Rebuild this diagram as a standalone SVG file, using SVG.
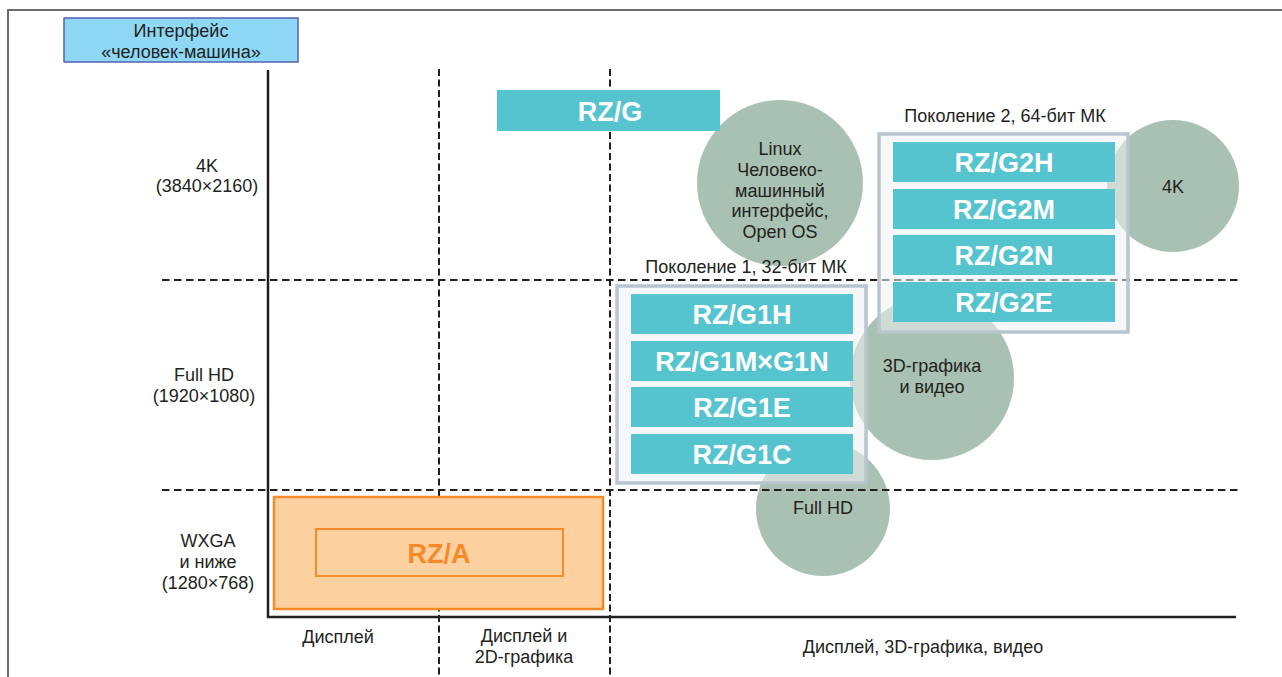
<svg xmlns="http://www.w3.org/2000/svg" width="1282" height="677" viewBox="0 0 1282 677">
<style>
  .t{font-family:"Liberation Sans",Arial,sans-serif;font-size:18px;fill:#231f20;text-anchor:middle}
  .b{font-family:"Liberation Sans",Arial,sans-serif;font-size:27px;font-weight:bold;fill:#ffffff;text-anchor:middle}
  .teal{fill:#55c4cf}
  .circ{fill:#a8c1b2}
  .panel{fill:#eff1f3;fill-opacity:0.55;stroke:#b7c5ce;stroke-width:3.5}
  .dh{stroke:#231f20;stroke-width:2;stroke-dasharray:7.5 4.5;fill:none}
  .dv{stroke:#231f20;stroke-width:2;stroke-dasharray:7 3.5;fill:none}
  .ax{stroke:#231f20;stroke-width:2.5;fill:none}
</style>
<rect width="1282" height="677" fill="#ffffff"/>
<g id="frame">
  <path d="M8,677 V10 H1282" fill="none" stroke="#6b6b6b" stroke-width="2"/>
</g>
<g id="legend">
  <rect x="64" y="18" width="234" height="44" fill="#8ed8f6" stroke="#5560b0" stroke-width="1.5"/>
  <text class="t" x="181" y="37">Интерфейс</text>
  <text class="t" x="181" y="58">«человек-машина»</text>
</g>
<g id="circles">
  <g id="c-linux">
    <circle class="circ" cx="780" cy="183" r="83"/>
    <text class="t" x="780" y="155">Linux</text>
    <text class="t" x="780" y="176">Человеко-</text>
    <text class="t" x="780" y="197">машинный</text>
    <text class="t" x="780" y="217">интерфейс,</text>
    <text class="t" x="780" y="238">Open OS</text>
  </g>
  <g id="c-4k">
    <circle class="circ" cx="1173" cy="186" r="66"/>
  </g>
  <g id="c-3d">
    <circle class="circ" cx="932" cy="378" r="82"/>
  </g>
  <g id="c-fullhd">
    <circle class="circ" cx="823" cy="509" r="67"/>
  </g>
</g>
<g id="connectors">
  <line class="ax" x1="268" y1="70" x2="268" y2="618"/>
  <line class="ax" x1="267" y1="617" x2="1236" y2="617"/>
  <line class="dv" x1="439" y1="69" x2="439" y2="677"/>
  <line class="dv" x1="610" y1="69" x2="610" y2="677"/>
  <line class="dh" x1="162" y1="280" x2="1238" y2="280"/>
  <line class="dh" x1="162" y1="490" x2="1238" y2="490"/>
</g>
<g id="rzg">
  <rect class="teal" x="497" y="90" width="223" height="41"/>
  <text class="b" x="610" y="121">RZ/G</text>
</g>
<g id="gen2">
  <rect class="panel" x="879" y="134" width="249" height="198"/>
  <text class="t" x="1005" y="122">Поколение 2, 64-бит МК</text>
  <g id="g2h"><rect class="teal" x="893" y="142" width="222" height="40"/><text class="b" x="1004" y="172">RZ/G2H</text></g>
  <g id="g2m"><rect class="teal" x="893" y="189" width="222" height="40"/><text class="b" x="1004" y="219">RZ/G2M</text></g>
  <g id="g2n"><rect class="teal" x="893" y="235" width="222" height="40"/><text class="b" x="1004" y="265">RZ/G2N</text></g>
  <g id="g2e"><rect class="teal" x="893" y="282" width="222" height="40"/><text class="b" x="1004" y="312">RZ/G2E</text></g>
</g>
<g id="gen1">
  <rect class="panel" x="617" y="286" width="249" height="197"/>
  <text class="t" x="746" y="273">Поколение 1, 32-бит МК</text>
  <g id="g1h"><rect class="teal" x="631" y="294" width="222" height="40"/><text class="b" x="742" y="324">RZ/G1H</text></g>
  <g id="g1m"><rect class="teal" x="631" y="341" width="222" height="40"/><text class="b" x="742" y="371">RZ/G1M×G1N</text></g>
  <g id="g1e"><rect class="teal" x="631" y="387" width="222" height="40"/><text class="b" x="742" y="417">RZ/G1E</text></g>
  <g id="g1c"><rect class="teal" x="631" y="434" width="222" height="40"/><text class="b" x="742" y="464">RZ/G1C</text></g>
</g>
<g id="circle-labels">
  <text class="t" x="1173" y="193">4K</text>
  <text class="t" x="932" y="372">3D-графика</text>
  <text class="t" x="932" y="393">и видео</text>
  <text class="t" x="823" y="514">Full HD</text>
</g>
<g id="rza">
  <rect x="274" y="497" width="329" height="112" fill="#fdd09f" stroke="#f58a2a" stroke-width="2.5"/>
  <rect x="316" y="529" width="247" height="47" fill="none" stroke="#f58a2a" stroke-width="2"/>
  <text class="b" x="439" y="563" style="fill:#f58a2a">RZ/A</text>
</g>
<g id="y-labels">
  <text class="t" x="207" y="172">4K</text>
  <text class="t" x="207" y="192">(3840×2160)</text>
  <text class="t" x="204" y="381">Full HD</text>
  <text class="t" x="204" y="402">(1920×1080)</text>
  <text class="t" x="208" y="547">WXGA</text>
  <text class="t" x="208" y="568">и ниже</text>
  <text class="t" x="208" y="589">(1280×768)</text>
</g>
<g id="x-labels">
  <text class="t" x="338" y="643">Дисплей</text>
  <text class="t" x="524" y="642">Дисплей и</text>
  <text class="t" x="524" y="663">2D-графика</text>
  <text class="t" x="923" y="653">Дисплей, 3D-графика, видео</text>
</g>
</svg>
